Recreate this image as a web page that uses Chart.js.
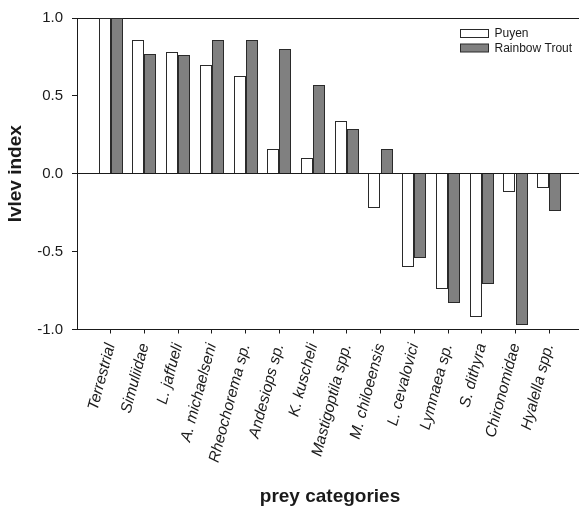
<!DOCTYPE html>
<html>
<head>
<meta charset="utf-8">
<script src="https://cdn.jsdelivr.net/npm/chart.js@4/dist/chart.umd.min.js"></script>
<style>
  html, body { margin: 0; padding: 0; background: #fff; overflow: hidden; }
  #wrap { position: relative; width: 583px; height: 508px; }
</style>
</head>
<body>
<div id="wrap"><canvas id="c"></canvas></div>
<script>
// Ivlev electivity index per prey category for the two fish species
const categories = ['Terrestrial', 'Simuliidae', 'L. jaffueli', 'A. michaelseni', 'Rheochorema sp.',
  'Andesiops sp.', 'K. kuscheli', 'Mastigoptila spp.', 'M. chiloeensis', 'L. cevalovici',
  'Lymnaea sp.', 'S. dithyra', 'Chironomidae', 'Hyalella spp.'];
const puyen = [1.00, 0.86, 0.78, 0.70, 0.63, 0.16, 0.10, 0.34, -0.22, -0.60, -0.74, -0.92, -0.12, -0.09];
const rainbowTrout = [1.00, 0.77, 0.76, 0.86, 0.86, 0.80, 0.57, 0.29, 0.16, -0.54, -0.83, -0.71, -0.97, -0.24];
const yTicks = [-1.0, -0.5, 0.0, 0.5, 1.0];

const FONT = '"Liberation Sans", Arial, Helvetica, sans-serif';
const INK = '#1a1a1a';

// one empty slot on each side of the categories, so the axis runs a full step past the end bars
const labels = ['', ...categories, ''];
const pad = arr => [null, ...arr, null];

// snap bar edges to whole pixels so the outlines stay crisp
const crispBars = {
  id: 'crispBars',
  beforeDatasetsDraw(chart) {
    chart.data.datasets.forEach((ds, i) => {
      chart.getDatasetMeta(i).data.forEach(el => {
        if (!el || el.width == null || isNaN(el.x)) return;
        const w = Math.round(el.width);
        const left = Math.round(el.x - el.width / 2);
        el.width = w;
        el.x = left + w / 2;
        el.y = Math.round(el.y);
        el.base = Math.round(el.base);
      });
    });
  }
};

// small boxed legend in the upper right of the plot
const boxLegend = {
  id: 'boxLegend',
  afterDraw(chart) {
    const ctx = chart.ctx;
    ctx.save();
    chart.data.datasets.forEach((ds, i) => {
      const y = 29 + i * 14.5;
      ctx.fillStyle = ds.backgroundColor;
      ctx.fillRect(460.5, y + 0.5, 28, 8);
      ctx.strokeStyle = ds.borderColor;
      ctx.lineWidth = 1;
      ctx.strokeRect(460.5, y + 0.5, 28, 8);
      ctx.fillStyle = INK;
      ctx.font = '12px ' + FONT;
      ctx.textBaseline = 'middle';
      ctx.textAlign = 'left';
      ctx.fillText(ds.label, 494.5, y + 4.8);
    });
    ctx.restore();
  }
};

new Chart(document.getElementById('c'), {
  type: 'bar',
  data: {
    labels: labels,
    datasets: [
      { label: 'Puyen', data: pad(puyen), backgroundColor: '#ffffff', borderColor: '#2a2a2a', borderWidth: 1 },
      { label: 'Rainbow Trout', data: pad(rainbowTrout), backgroundColor: '#808080', borderColor: '#2a2a2a', borderWidth: 1 }
    ]
  },
  options: {
    responsive: true,
    maintainAspectRatio: false,
    animation: false,
    devicePixelRatio: 1,
    layout: { padding: { top: 15, right: 0, bottom: 0, left: 0 } },
    datasets: { bar: { categoryPercentage: 0.72, barPercentage: 1.0 } },
    plugins: { legend: { display: false }, tooltip: { enabled: false } },
    scales: {
      x: {
        type: 'category',
        offset: false,
        afterFit: s => { s.height = 178.5; s.paddingLeft = 0; s.paddingRight = 0; },
        grid: {
          offset: false,
          drawOnChartArea: false,
          tickLength: 4,
          color: 'rgba(0,0,0,0)',
          tickColor: c => (c.index === 0 || c.index === labels.length - 1) ? 'rgba(0,0,0,0)' : INK,
          lineWidth: 1
        },
        border: { display: true, color: INK, width: 1 },
        ticks: {
          autoSkip: false,
          minRotation: 75,
          maxRotation: 75,
          padding: 8,
          color: INK,
          font: { family: FONT, size: 15.5, style: 'italic' }
        },
        title: {
          display: true,
          text: 'prey categories',
          color: INK,
          font: { family: FONT, size: 19, weight: 'bold' },
          padding: { top: 0, bottom: 0 }
        }
      },
      y: {
        min: -1,
        max: 1,
        afterFit: s => { s.width = 77; },
        afterBuildTicks: s => { s.ticks = yTicks.map(v => ({ value: v })); },
        grid: {
          tickLength: 5,
          color: c => (c.tick && (c.tick.value === 0 || c.tick.value === 1)) ? INK : 'rgba(0,0,0,0)',
          tickColor: INK,
          lineWidth: 1
        },
        border: { display: true, color: INK, width: 1 },
        ticks: {
          padding: 9,
          color: INK,
          font: { family: FONT, size: 15 },
          callback: v => Number(v).toFixed(1)
        },
        title: {
          display: true,
          text: 'Ivlev index',
          color: INK,
          font: { family: FONT, size: 19, weight: 'bold' },
          padding: { top: 4, bottom: 0 }
        }
      }
    }
  },
  plugins: [crispBars, boxLegend]
});
</script>
</body>
</html>
